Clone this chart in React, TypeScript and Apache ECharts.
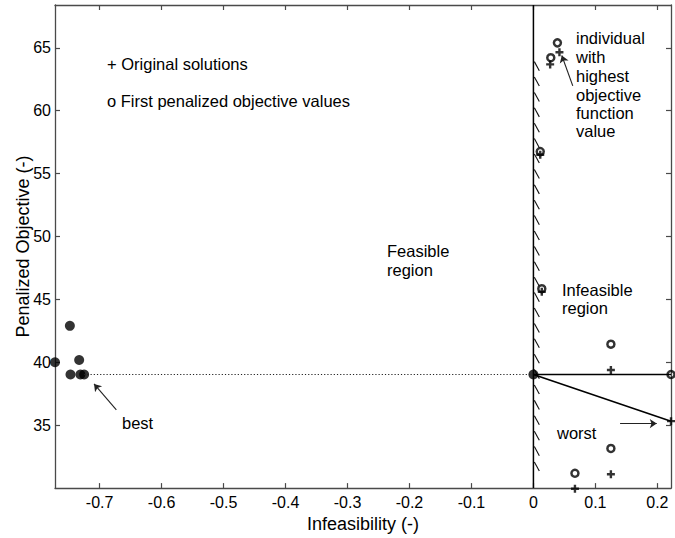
import React, { useEffect, useRef } from "react";
import * as echarts from "echarts";

// Axis extents and tick labels
const xMin = -0.772;
const xMax = 0.222;
const yMin = 30;
const yMax = 68.4;
const xTicks = [-0.7, -0.6, -0.5, -0.4, -0.3, -0.2, -0.1, 0, 0.1, 0.2];
const yTicks = [35, 40, 45, 50, 55, 60, 65];

// Feasible solutions (filled dots)
const feasibleX = [-0.772, -0.748, -0.747, -0.733, -0.731, -0.725, 0];
const feasibleY = [40.0, 42.9, 39.03, 40.18, 39.03, 39.03, 39.03];

// Original solutions (+)
const origX = [0.027, 0.042, 0.011, 0.0135, 0.125, 0.125, 0.067, 0.222];
const origY = [63.68, 64.65, 56.5, 45.6, 39.39, 31.1, 29.95, 35.32];

// First penalized objective values (o)
const penX = [0.028, 0.0387, 0.011, 0.0135, 0.125, 0.125, 0.067, 0.222];
const penY = [64.21, 65.39, 56.75, 45.85, 41.44, 33.15, 31.18, 39.03];

// Reference lines
const bestY = 39.03;
const bestLineStartX = -0.725;
const worstY = 35.32;

// Hatch marks on the infeasible side of the boundary (top value of each mark)
const hatchTop = 63.9;
const hatchBottom = 31.5;
const hatchStep = 1.224;

// Arrows [tail, head]
const arrowBest = [[-0.673, 36.21], [-0.709, 38.28]];
const arrowIndividual = [[0.0635, 61.97], [0.0458, 64.39]];
const arrowWorst = [[0.1398, 35.13], [0.199, 35.13]];

const FONT = '"Liberation Sans", Arial, Helvetica, sans-serif';
const PLUS = "path://M2.8,0H5.2V2.8H8V5.2H5.2V8H2.8V5.2H0V2.8H2.8Z";

export default function App() {
  const ref = useRef<HTMLDivElement>(null);

  useEffect(() => {
    if (!ref.current) return;
    const chart = echarts.init(ref.current, undefined, { renderer: "svg" });

    const hatchData: any[] = [];
    for (let y = hatchTop; y >= hatchBottom; y -= hatchStep) {
      hatchData.push({ coords: [[0.0015, y], [0.0095, y - 0.72]] });
    }

    const axisLineStyle = { color: "#4a4a4a", width: 1.3 };
    const tickStyle = { color: "#4a4a4a", width: 1.2 };

    const text = (t: string, x: number, y: number) => ({
      type: "text",
      x,
      y,
      silent: true,
      style: {
        text: t,
        font: `16.5px ${FONT}`,
        fill: "#000",
        verticalAlign: "middle",
        align: "left",
      },
    });

    const option: any = {
      animation: false,
      backgroundColor: "#fff",
      grid: { left: 55, right: 4, top: 5, bottom: 47, containLabel: false },
      xAxis: [
        {
          type: "value",
          min: xMin,
          max: xMax,
          position: "bottom",
          name: "Infeasibility (-)",
          nameLocation: "middle",
          nameGap: 22,
          nameTextStyle: { fontFamily: FONT, fontSize: 18, color: "#000" },
          axisLine: { show: true, onZero: false, lineStyle: axisLineStyle },
          axisTick: { show: true, inside: true, length: 5, lineStyle: tickStyle, customValues: xTicks },
          axisLabel: {
            show: true,
            customValues: xTicks,
            fontFamily: FONT,
            fontSize: 16,
            color: "#000",
            margin: 6,
            formatter: (v: number) => String(Math.round(v * 10) / 10),
          },
          splitLine: { show: false },
        },
        {
          type: "value",
          min: xMin,
          max: xMax,
          position: "top",
          axisLine: { show: true, onZero: false, lineStyle: axisLineStyle },
          axisTick: { show: true, inside: true, length: 5, lineStyle: tickStyle, customValues: xTicks },
          axisLabel: { show: false },
          splitLine: { show: false },
        },
      ],
      yAxis: [
        {
          type: "value",
          min: yMin,
          max: yMax,
          position: "left",
          name: "Penalized Objective (-)",
          nameLocation: "middle",
          nameGap: 23,
          nameMoveOverlap: false,
          nameTextStyle: { fontFamily: FONT, fontSize: 18, color: "#000" },
          axisLine: { show: true, onZero: false, lineStyle: axisLineStyle },
          axisTick: { show: true, inside: true, length: 5, lineStyle: tickStyle, customValues: yTicks },
          axisLabel: {
            show: true,
            customValues: yTicks,
            fontFamily: FONT,
            fontSize: 16,
            color: "#000",
            margin: 4,
          },
          splitLine: { show: false },
        },
        {
          type: "value",
          min: yMin,
          max: yMax,
          position: "right",
          axisLine: { show: true, onZero: false, lineStyle: axisLineStyle },
          axisTick: { show: true, inside: true, length: 5, lineStyle: tickStyle, customValues: yTicks },
          axisLabel: { show: false },
          splitLine: { show: false },
        },
      ],
      series: [
        {
          type: "line",
          name: "boundary",
          data: [[0, yMin], [0, yMax]],
          symbol: "none",
          lineStyle: { color: "#000", width: 1.5 },
          silent: true,
        },
        {
          type: "lines",
          coordinateSystem: "cartesian2d",
          data: hatchData,
          symbol: ["none", "none"],
          lineStyle: { color: "#111", width: 1.1, opacity: 1 },
          silent: true,
        },
        {
          type: "line",
          name: "bestDotted",
          data: [[bestLineStartX, bestY], [0, bestY]],
          symbol: "none",
          lineStyle: { color: "#222", width: 1.2, type: [1.2, 2] },
          silent: true,
        },
        {
          type: "line",
          name: "bestHorizontal",
          data: [[0, bestY], [xMax, bestY]],
          symbol: "none",
          lineStyle: { color: "#000", width: 1.6 },
          silent: true,
        },
        {
          type: "line",
          name: "bestToWorst",
          data: [[0, bestY], [xMax, worstY]],
          symbol: "none",
          lineStyle: { color: "#000", width: 1.6 },
          silent: true,
        },
        {
          type: "lines",
          coordinateSystem: "cartesian2d",
          data: [{ coords: arrowBest }, { coords: arrowIndividual }, { coords: arrowWorst }],
          symbol: ["none", "arrow"],
          symbolSize: 7,
          lineStyle: { color: "#222", width: 1.1, opacity: 1 },
          silent: true,
        },
        {
          type: "scatter",
          name: "Feasible",
          data: feasibleX.map((x, i) => [x, feasibleY[i]]),
          symbol: "circle",
          symbolSize: 10,
          itemStyle: { color: "#000" },
          clip: false,
          silent: true,
        },
        {
          type: "scatter",
          name: "First penalized objective values",
          data: penX.map((x, i) => [x, penY[i]]),
          symbol: "circle",
          symbolSize: 7,
          itemStyle: { color: "rgba(255,255,255,0)", borderColor: "#000", borderWidth: 2.5 },
          clip: false,
          silent: true,
        },
        {
          type: "scatter",
          name: "Original solutions",
          data: origX.map((x, i) => [x, origY[i]]),
          symbol: PLUS,
          symbolSize: 8,
          itemStyle: { color: "#000" },
          clip: false,
          silent: true,
        },
      ],
      graphic: [
        text("+ Original solutions", 107, 64),
        text("o First penalized objective values", 107, 101),
        text("Feasible", 387, 251),
        text("region", 387, 270),
        text("Infeasible", 562, 290),
        text("region", 562, 308),
        text("individual", 576, 38),
        text("with", 576, 57),
        text("highest", 576, 76),
        text("objective", 576, 95),
        text("function", 576, 113),
        text("value", 576, 131),
        text("worst", 557, 433),
        text("best", 122, 423),
      ],
    };

    chart.setOption(option);
    return () => chart.dispose();
  }, []);

  return (
    <div
      ref={ref}
      style={{ position: "absolute", left: 0, top: 0, width: 675, height: 538 }}
    />
  );
}
